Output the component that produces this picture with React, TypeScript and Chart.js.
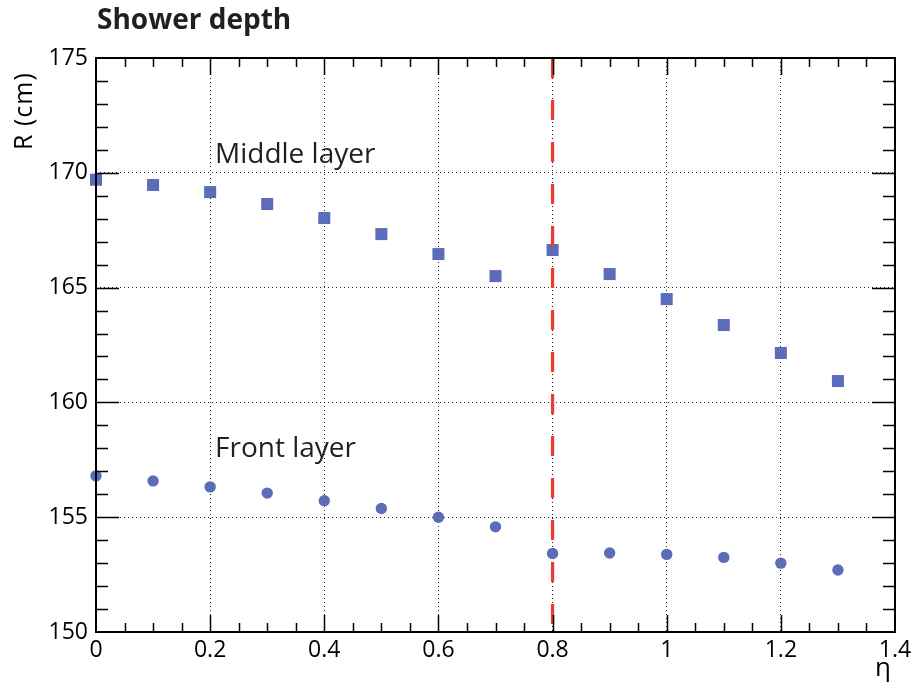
import React, { useEffect, useRef } from 'react';
import { Chart, registerables } from 'chart.js';

Chart.register(...registerables);

// ---- data ----
const etaValues = [0, 0.1, 0.2, 0.3, 0.4, 0.5, 0.6, 0.7, 0.8, 0.9, 1.0, 1.1, 1.2, 1.3];
const middleLayerR = [169.7, 169.47, 169.16, 168.64, 168.03, 167.33, 166.46, 165.5, 166.64, 165.59, 164.5, 163.37, 162.15, 160.93];
const frontLayerR = [156.8, 156.58, 156.32, 156.05, 155.72, 155.38, 155.0, 154.58, 153.42, 153.44, 153.38, 153.25, 153.0, 152.7];
const crackEta = 0.8;
const xRange = [0, 1.4];
const yRange = [150, 175];
const xMajorStep = 0.2;
const xMinorStep = 0.05;
const yMajorStep = 5;
const yMinorStep = 1;
const titleText = 'Shower depth';
const yTitle = 'R (cm)';
const xTitle = 'η';
const middleLabel = 'Middle layer';
const frontLabel = 'Front layer';

const FONT = '"Open Sans", "DejaVu Sans", sans-serif';
const MARKER = '#5b6db8';
const TEXT = '#231f20';

const overlayPlugin = {
  id: 'rootStyle',
  afterDatasetsDraw(chart: any) {
    const { ctx, chartArea, scales } = chart;
    const xs = scales.x;
    const xp = xs.getPixelForValue(crackEta);
    ctx.save();
    ctx.strokeStyle = '#ef3b2d';
    ctx.lineWidth = 3.2;
    ctx.setLineDash([20, 22]);
    ctx.beginPath();
    ctx.moveTo(xp, chartArea.top);
    ctx.lineTo(xp, chartArea.bottom);
    ctx.stroke();
    ctx.restore();
  },
  afterDraw(chart: any) {
    const { ctx, chartArea, scales } = chart;
    const xs = scales.x;
    const ys = scales.y;
    const { left, right, top, bottom } = chartArea;
    ctx.save();
    ctx.strokeStyle = '#000';
    ctx.lineWidth = 1.5;
    const nx = Math.round((xRange[1] - xRange[0]) / xMinorStep);
    for (let i = 1; i < nx; i++) {
      const v = xRange[0] + i * xMinorStep;
      const isMajor = Math.abs(v / xMajorStep - Math.round(v / xMajorStep)) < 1e-6;
      const len = isMajor ? 17 : 9;
      const p = Math.round(xs.getPixelForValue(v)) + 0.5;
      ctx.beginPath();
      ctx.moveTo(p, bottom);
      ctx.lineTo(p, bottom - len);
      ctx.moveTo(p, top);
      ctx.lineTo(p, top + len);
      ctx.stroke();
    }
    const ny = Math.round((yRange[1] - yRange[0]) / yMinorStep);
    for (let i = 1; i < ny; i++) {
      const v = yRange[0] + i * yMinorStep;
      const isMajor = Math.abs(v / yMajorStep - Math.round(v / yMajorStep)) < 1e-6;
      const len = isMajor ? 23 : 12;
      const p = Math.round(ys.getPixelForValue(v)) + 0.5;
      ctx.beginPath();
      ctx.moveTo(left, p);
      ctx.lineTo(left + len, p);
      ctx.moveTo(right, p);
      ctx.lineTo(right - len, p);
      ctx.stroke();
    }
    ctx.lineWidth = 2;
    ctx.strokeRect(left, top, right - left, bottom - top);

    ctx.fillStyle = TEXT;
    ctx.textAlign = 'left';
    ctx.textBaseline = 'alphabetic';
    ctx.font = `bold 28px ${FONT}`;
    ctx.fillText(titleText, 97, 29);

    ctx.font = `28px ${FONT}`;
    ctx.fillText(middleLabel, 215, 163);
    ctx.fillText(frontLabel, 215, 457);

    ctx.fillStyle = '#000';
    ctx.font = `26px ${FONT}`;
    ctx.textAlign = 'center';
    ctx.fillText(xTitle, 883, 676);

    ctx.save();
    ctx.font = `25px ${FONT}`;
    (ctx as any).letterSpacing = '1px';
    ctx.translate(32, 150);
    ctx.rotate(-Math.PI / 2);
    ctx.textAlign = 'left';
    ctx.fillText(yTitle, 0, 0);
    ctx.restore();

    ctx.restore();
  },
};

export default function App() {
  const ref = useRef<HTMLCanvasElement | null>(null);
  useEffect(() => {
    if (!ref.current) return;
    const chart = new Chart(ref.current, {
      type: 'scatter',
      data: {
        datasets: [
          {
            label: middleLabel,
            data: etaValues.map((x, i) => ({ x, y: middleLayerR[i] })),
            pointStyle: 'rect',
            pointRadius: 8.5,
            backgroundColor: MARKER,
            borderColor: MARKER,
            borderWidth: 0,
            clip: false,
          } as any,
          {
            label: frontLabel,
            data: etaValues.map((x, i) => ({ x, y: frontLayerR[i] })),
            pointStyle: 'circle',
            pointRadius: 5.7,
            backgroundColor: MARKER,
            borderColor: MARKER,
            borderWidth: 0,
            clip: false,
          } as any,
        ],
      },
      options: {
        responsive: false,
        animation: false,
        layout: { padding: { top: 58, right: 17, left: 0, bottom: 0 } },
        plugins: { legend: { display: false }, tooltip: { enabled: false }, title: { display: false } },
        scales: {
          x: {
            type: 'linear',
            min: xRange[0],
            max: xRange[1],
            afterFit: (s: any) => { s.height = 50; s.paddingLeft = 0; s.paddingRight = 0; },
            ticks: {
              stepSize: xMajorStep,
              color: '#000',
              padding: 5,
              maxRotation: 0,
              font: { family: FONT, size: 23 },
              callback: (v: any) => String(Number(Number(v).toFixed(2))),
            },
            grid: { color: '#222', lineWidth: 1, drawTicks: false },
            border: { display: false, dash: [1, 3] },
          },
          y: {
            type: 'linear',
            min: yRange[0],
            max: yRange[1],
            afterFit: (s: any) => { s.width = 96; s.paddingTop = 0; s.paddingBottom = 0; },
            ticks: {
              stepSize: yMajorStep,
              color: '#000',
              padding: 8,
              font: { family: FONT, size: 23 },
            },
            grid: { color: '#222', lineWidth: 1, drawTicks: false },
            border: { display: false, dash: [1, 3] },
          },
        },
      } as any,
      plugins: [overlayPlugin],
    });
    return () => chart.destroy();
  }, []);
  return (
    <div style={{ position: 'fixed', left: 0, top: 0, width: 912, height: 682, background: '#fff' }}>
      <canvas ref={ref} width={912} height={682} />
    </div>
  );
}
